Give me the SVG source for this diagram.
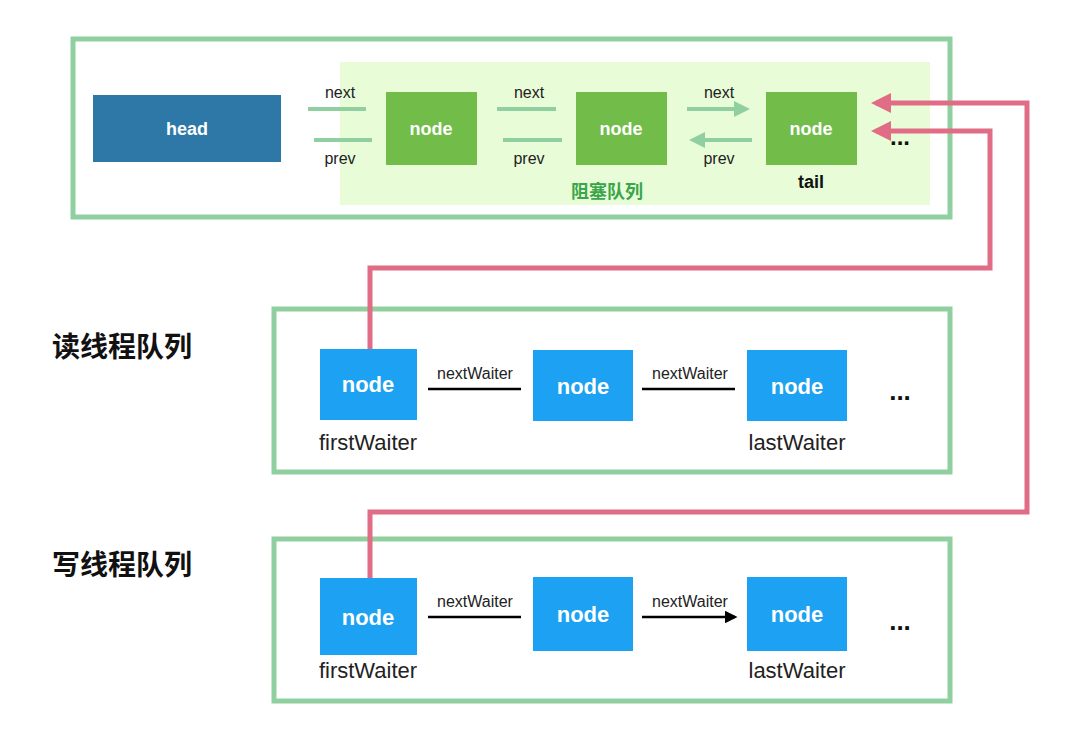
<svg xmlns="http://www.w3.org/2000/svg" width="1080" height="732" viewBox="0 0 1080 732">
<defs>
<style>
.box{fill:#fff;stroke:#8fcfa0;stroke-width:5}
.g{fill:#72bd4a}
.b{fill:#1da1f2}
.w{font-family:"Liberation Sans",Arial,sans-serif;font-weight:bold;fill:#fff;text-anchor:middle}
.t{font-family:"Liberation Sans",Arial,sans-serif;fill:#222;text-anchor:middle}
.ga{stroke:#8fcfa0;stroke-width:4;fill:none}
.pk{stroke:#e06c85;stroke-width:5;fill:none}
.ba{stroke:#000;stroke-width:2.5;fill:none;marker-end:url(#ab)}
.cj{font-family:"Noto Sans CJK SC",sans-serif;font-weight:bold;font-size:28px;fill:#111}
</style>
<marker id="ag" markerWidth="4" markerHeight="4" refX="3" refY="2" orient="auto"><path d="M0,0L4,2L0,4z" fill="#8fcfa0"/></marker>
<marker id="ab" markerWidth="5" markerHeight="5" refX="4" refY="2.5" orient="auto" markerUnits="strokeWidth"><path d="M0,0L5,2.5L0,5z" fill="#000"/></marker>
<marker id="ap" markerWidth="4" markerHeight="4" refX="3" refY="2" orient="auto"><path d="M0,0L4,2L0,4z" fill="#e06c85"/></marker>
</defs>
<g id="top">
<rect class="box" x="73" y="39" width="877" height="178"/>
<rect x="340" y="62" width="590" height="143" fill="#e8fcd8"/>
<text x="607" y="198" font-family="Noto Sans CJK SC,sans-serif" font-weight="bold" font-size="18" fill="#3aa54a" text-anchor="middle">阻塞队列</text>
</g>
<g id="head"><rect x="93" y="95" width="188" height="67" fill="#2e78a8"/><text class="w" x="187" y="135" font-size="18">head</text></g>
<g id="n1"><rect class="g" x="386" y="92" width="91" height="73"/><text class="w" x="431" y="135" font-size="18">node</text></g>
<g id="n2"><rect class="g" x="576" y="92" width="91" height="73"/><text class="w" x="621" y="135" font-size="18">node</text></g>
<g id="n3"><rect class="g" x="766" y="92" width="91" height="73"/><text class="w" x="811" y="135" font-size="18">node</text>
<text x="811" y="188" font-family="Liberation Sans,Arial,sans-serif" font-weight="bold" font-size="18" text-anchor="middle" fill="#111">tail</text>
<text x="900" y="145" font-family="Liberation Sans,Arial,sans-serif" font-weight="bold" font-size="24" text-anchor="middle" fill="#111">...</text></g>
<g id="readq"><text class="cj" x="52" y="357">读线程队列</text>
<rect class="box" x="274" y="309" width="676" height="163"/>
<rect class="b" x="320" y="349" width="97" height="71"/><text class="w" x="368" y="392" font-size="22">node</text>
<rect class="b" x="533" y="350" width="100" height="71"/><text class="w" x="583" y="394" font-size="22">node</text>
<rect class="b" x="747" y="350" width="100" height="71"/><text class="w" x="797" y="394" font-size="22">node</text>
<text class="t" x="368" y="450" font-size="22">firstWaiter</text><text class="t" x="797" y="450" font-size="22">lastWaiter</text>
<text x="900" y="400" font-family="Liberation Sans,Arial,sans-serif" font-weight="bold" font-size="26" text-anchor="middle" fill="#111">...</text></g>
<g id="writeq"><text class="cj" x="52" y="575">写线程队列</text>
<rect class="box" x="274" y="539" width="676" height="162"/>
<rect class="b" x="320" y="578" width="97" height="77"/><text class="w" x="368" y="625" font-size="22">node</text>
<rect class="b" x="533" y="577" width="100" height="74"/><text class="w" x="583" y="622" font-size="22">node</text>
<rect class="b" x="747" y="577" width="100" height="74"/><text class="w" x="797" y="622" font-size="22">node</text>
<text class="t" x="368" y="678" font-size="22">firstWaiter</text><text class="t" x="797" y="678" font-size="22">lastWaiter</text>
<text x="900" y="630" font-family="Liberation Sans,Arial,sans-serif" font-weight="bold" font-size="26" text-anchor="middle" fill="#111">...</text></g>
<g id="connectors">
<g class="t" font-size="16">
<text x="340" y="98">next</text><text x="529" y="98">next</text><text x="719" y="98">next</text>
<text x="340" y="164">prev</text><text x="529" y="164">prev</text><text x="719" y="164">prev</text>
<text x="475" y="379">nextWaiter</text><text x="690" y="379">nextWaiter</text>
<text x="475" y="607">nextWaiter</text><text x="690" y="607">nextWaiter</text>
</g>
<path class="ga" d="M308,109H366M497,109H556M687,109H746" marker-end="url(#ag)"/>
<path class="ga" d="M372,140H314M562,140H503M752,140H693" marker-end="url(#ag)"/>
<path class="ba" d="M428,389H521M642,389H735M428,617H521M642,617H735"/>
<path class="pk" d="M370,578V512H1027V103H876" marker-end="url(#ap)"/>
<path class="pk" d="M370,349V268H990V131H876" marker-end="url(#ap)"/>
</g>
</svg>
